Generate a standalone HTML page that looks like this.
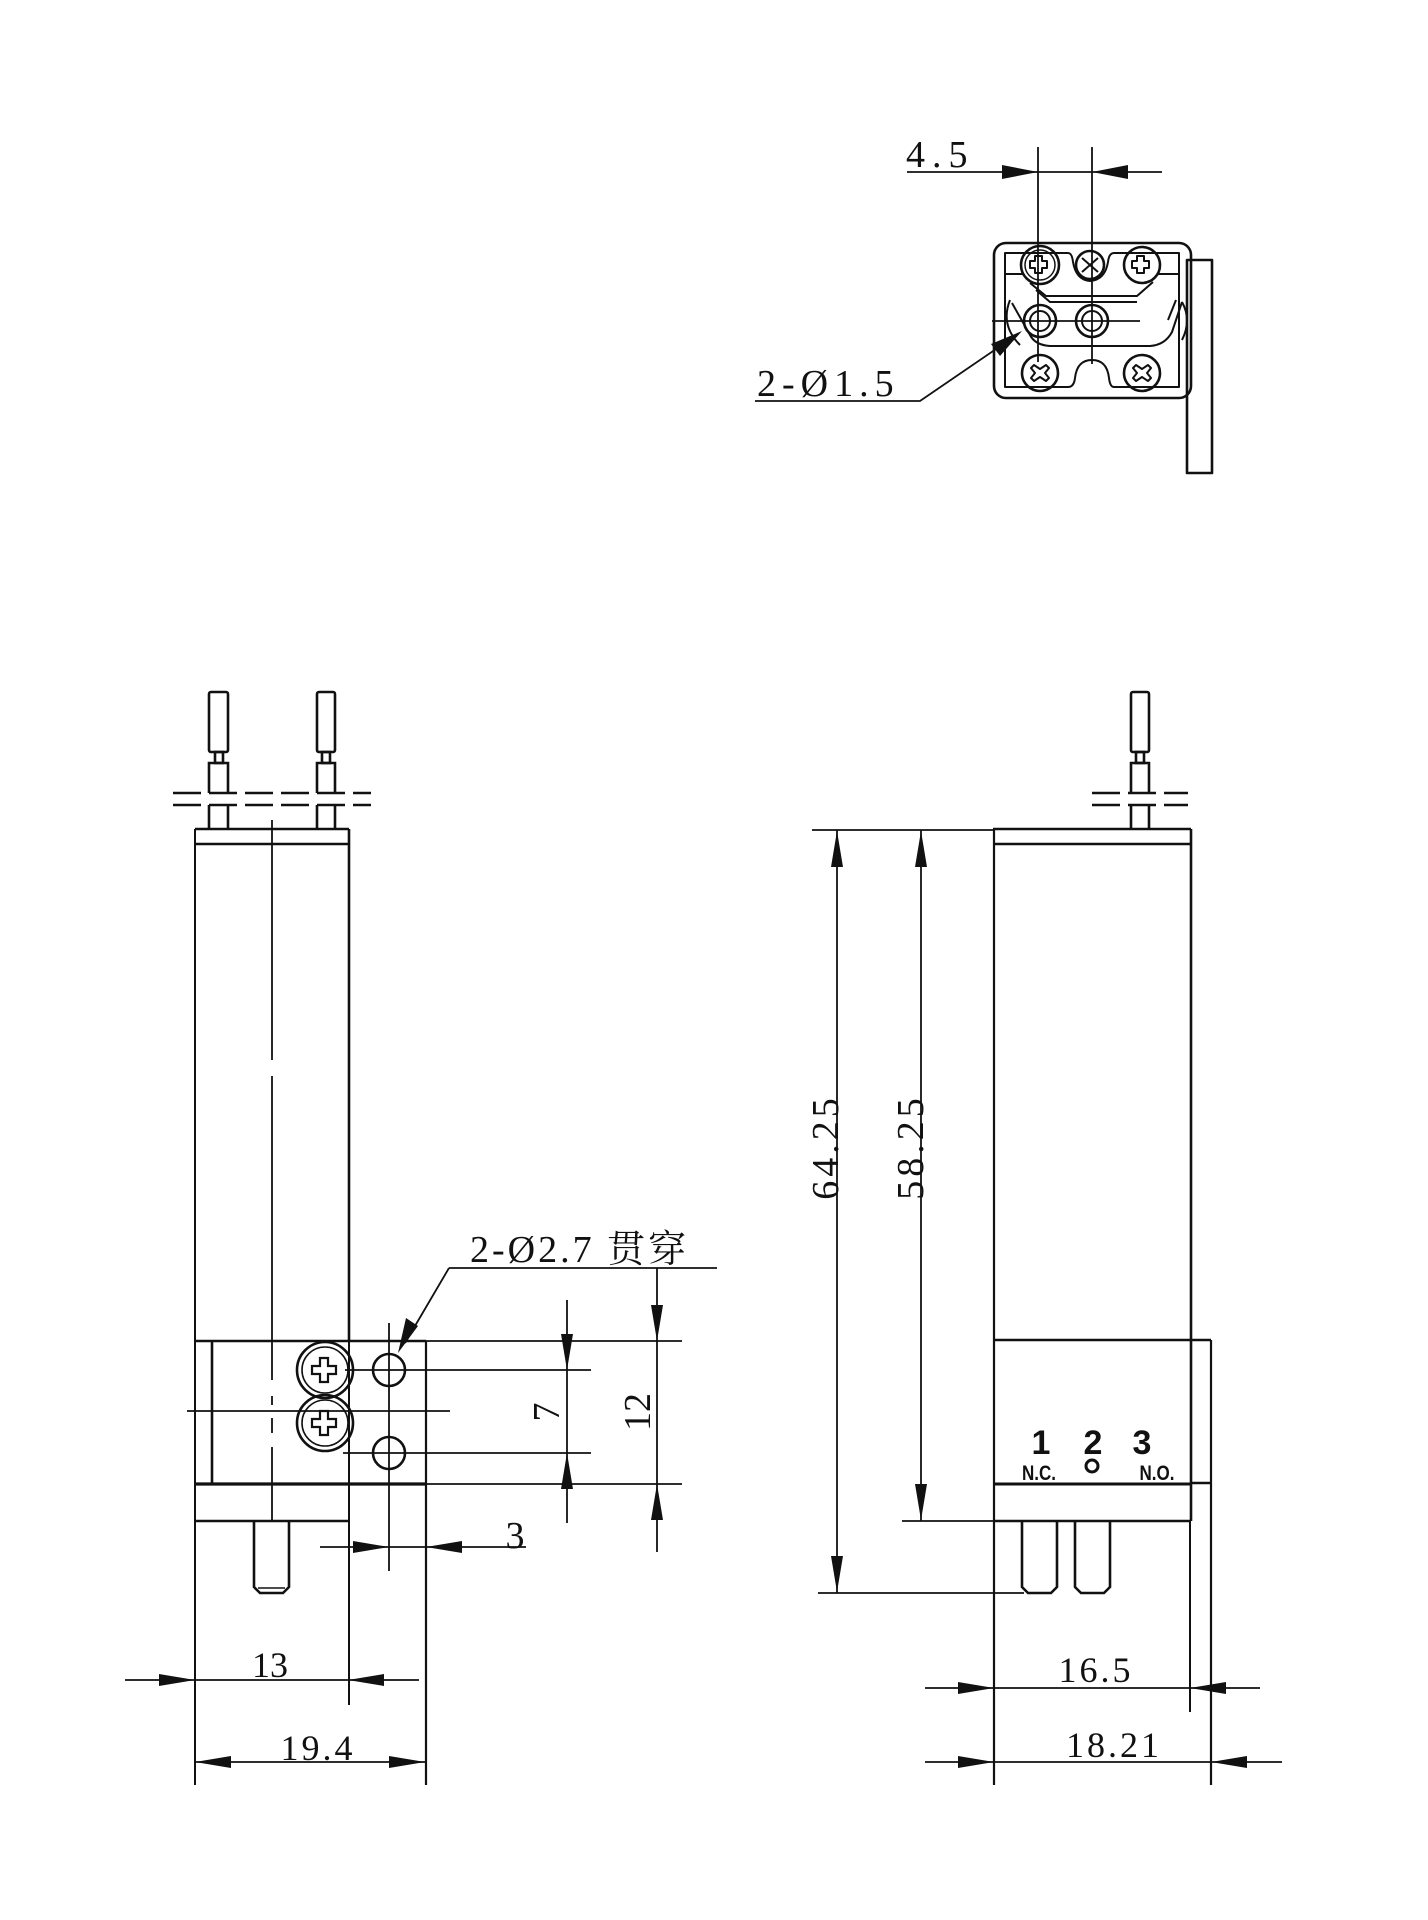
<!DOCTYPE html>
<html><head><meta charset="utf-8"><style>
html,body{margin:0;padding:0;background:#fff;}
svg{display:block;}
text{font-family:"Liberation Serif","Noto Serif CJK SC",serif;fill:#111;}
</style></head><body>
<svg width="1428" height="1920" viewBox="0 0 1428 1920" xmlns="http://www.w3.org/2000/svg">
<g fill="none" stroke="#111" stroke-width="2.6" stroke-linejoin="round">
<rect x="994" y="243" width="197" height="155" rx="12"/>
<path d="M1005 253 H1068 Q1072 253 1073 262 Q1076 280 1090 281 Q1105 280 1108 262 Q1109 253 1114 253 H1179 V387 H1114 Q1110 387 1109 378 Q1107 360 1092 360 Q1077 360 1075 378 Q1074 387 1068 387 H1005 Z" stroke-width="2"/>
<line x1="1005" y1="274" x2="1024" y2="274" stroke-width="2"/>
<line x1="1158" y1="274" x2="1179" y2="274" stroke-width="2"/>
<path d="M1030 283 L1046 296 H1137 L1153 282" stroke-width="2"/>
<path d="M1036 290 L1050 302 H1137" stroke-width="2"/>
<path d="M1010 300 Q1000 325 1020 345" stroke-width="2"/>
<path d="M1012 303 L1030 335 Q1035 345 1050 346 H1150 Q1165 345 1172 332 L1182 302" stroke-width="2"/>
<path d="M1176 300 L1168 320" stroke-width="2"/>
<path d="M1182 302 Q1192 320 1182 340" stroke-width="2"/>
<rect x="1187" y="260" width="25" height="213"/>
<circle cx="1040" cy="265" r="19"/><circle cx="1040" cy="265" r="15" stroke-width="1.5"/>
<path d="M1035 256 h7 v5 h5 v7 h-5 v5 h-7 v-5 h-5 v-7 h5z" stroke-width="2"/>
<circle cx="1090" cy="265" r="14"/>
<path d="M1082 258 L1098 272 M1098 258 L1082 272" stroke-width="2"/>
<circle cx="1142" cy="265" r="18"/>
<path d="M1137 256 h7 v5 h5 v7 h-5 v5 h-7 v-5 h-5 v-7 h5z" stroke-width="2"/>
<circle cx="1040" cy="321" r="16"/><circle cx="1040" cy="321" r="10" stroke-width="2"/>
<circle cx="1092" cy="321" r="16"/><circle cx="1092" cy="321" r="10" stroke-width="2"/>
<circle cx="1040" cy="373" r="18"/>
<path d="M1034 365 l6 4 l6 -4 l3 3 l-4 5 l4 5 l-3 3 l-6 -4 l-6 4 l-3 -3 l4 -5 l-4 -5z" stroke-width="2"/>
<circle cx="1142" cy="373" r="18"/>
<path d="M1136 365 l6 4 l6 -4 l3 3 l-4 5 l4 5 l-3 3 l-6 -4 l-6 4 l-3 -3 l4 -5 l-4 -5z" stroke-width="2"/>
</g>
<g stroke="#111" stroke-width="1.8" fill="none">
<line x1="1038" y1="147" x2="1038" y2="362"/>
<line x1="1092" y1="147" x2="1092" y2="364"/>
<line x1="907" y1="172" x2="1162" y2="172"/>
<line x1="992" y1="321" x2="1140" y2="321"/>
<polyline points="755,401 920,401 1018,334"/>
</g>
<g fill="#111">
<polygon points="1038,172 1002,165 1002,179"/>
<polygon points="1092,172 1128,165 1128,179"/>
<polygon points="1022,331 1000,356 991,344"/>
</g>
<text x="906" y="167" font-size="38" letter-spacing="7">4.5</text>
<text x="757" y="396" font-size="38" letter-spacing="6">2-Ø1.5</text>

<g fill="none" stroke="#111" stroke-width="2.6">
<rect x="209" y="692" width="19" height="60" rx="2"/>
<rect x="317" y="692" width="18" height="60" rx="2"/>
<rect x="215" y="752" width="8" height="11"/><rect x="322" y="752" width="8" height="11"/>
<path d="M209 793 V763 H228 V793 M317 793 V763 H335 V793"/>
<path d="M209 805 V829 M228 805 V829 M317 805 V829 M335 805 V829"/>
<line x1="195" y1="829" x2="349" y2="829"/>
<line x1="195" y1="844" x2="349" y2="844"/>
<line x1="195" y1="829" x2="195" y2="1785" stroke-width="2"/>
<line x1="349" y1="829" x2="349" y2="1341"/>
<line x1="349" y1="1341" x2="349" y2="1705" stroke-width="2"/>
<line x1="195" y1="1341" x2="426" y2="1341"/>
<line x1="212" y1="1341" x2="212" y2="1484"/>
<line x1="195" y1="1484" x2="426" y2="1484" stroke-width="3.2"/>
<line x1="426" y1="1341" x2="426" y2="1785" stroke-width="2.2"/>
<line x1="195" y1="1521" x2="349" y2="1521"/>
<path d="M254 1521 V1587 L260 1593 H283 L289 1587 V1521"/>
<line x1="258" y1="1588" x2="285" y2="1588" stroke-width="1.5"/>
<circle cx="325" cy="1370" r="28"/><circle cx="325" cy="1370" r="23" stroke-width="1.6"/>
<circle cx="325" cy="1423" r="28"/><circle cx="325" cy="1423" r="23" stroke-width="1.6"/>
<path d="M320 1358 h8 v8 h8 v8 h-8 v8 h-8 v-8 h-8 v-8 h8z" stroke-width="2.2"/>
<path d="M320 1411 h8 v8 h8 v8 h-8 v8 h-8 v-8 h-8 v-8 h8z" stroke-width="2.2"/>
<circle cx="389" cy="1370" r="16"/>
<circle cx="389" cy="1453" r="16"/>
</g>
<g stroke="#111" stroke-width="2.4" fill="none" stroke-dasharray="28 8">
<line x1="173" y1="793" x2="371" y2="793"/>
<line x1="173" y1="805" x2="371" y2="805"/>
</g>
<g stroke="#111" stroke-width="1.8" fill="none">
<path d="M272 820 V1060 M272 1076 V1380 M272 1396 V1405 M272 1418 V1433 M272 1447 V1521"/>
<line x1="187" y1="1411" x2="450" y2="1411"/>
<line x1="389" y1="1323" x2="389" y2="1571"/>
<line x1="345" y1="1370" x2="591" y2="1370"/>
<line x1="343" y1="1453" x2="591" y2="1453"/>
<line x1="426" y1="1341" x2="682" y2="1341"/>
<line x1="426" y1="1484" x2="682" y2="1484"/>
<line x1="567" y1="1300" x2="567" y2="1523"/>
<line x1="657" y1="1268" x2="657" y2="1552"/>
<polyline points="449,1268 717,1268"/>
<line x1="449" y1="1268" x2="405" y2="1343"/>
<line x1="320" y1="1547" x2="526" y2="1547"/>
<line x1="125" y1="1680" x2="419" y2="1680"/>
<line x1="195" y1="1762" x2="425" y2="1762"/>
</g>
<g fill="#111">
<polygon points="567,1370 561,1334 573,1334"/>
<polygon points="567,1453 561,1489 573,1489"/>
<polygon points="657,1341 651,1305 663,1305"/>
<polygon points="657,1484 651,1520 663,1520"/>
<polygon points="398,1353 406,1318 418,1326"/>
<polygon points="389,1547 353,1541 353,1553"/>
<polygon points="426,1547 462,1541 462,1553"/>
<polygon points="195,1680 159,1674 159,1686"/>
<polygon points="348,1680 384,1674 384,1686"/>
<polygon points="195,1762 231,1756 231,1768"/>
<polygon points="425,1762 389,1756 389,1768"/>
</g>
<text x="470" y="1262" font-size="38" letter-spacing="3">2-Ø2.7 贯穿</text>
<text x="515" y="1548" font-size="38" text-anchor="middle">3</text>
<text x="270" y="1677" font-size="36" text-anchor="middle">13</text>
<text x="318" y="1760" font-size="36" text-anchor="middle" letter-spacing="3">19.4</text>
<text transform="translate(559,1412) rotate(-90)" font-size="38" text-anchor="middle">7</text>
<text transform="translate(650,1412) rotate(-90)" font-size="38" text-anchor="middle">12</text>

<g fill="none" stroke="#111" stroke-width="2.6">
<rect x="1131" y="692" width="18" height="60" rx="2"/>
<rect x="1136" y="752" width="8" height="11"/>
<path d="M1131 793 V763 H1149 V793 M1131 805 V829 M1149 805 V829"/>
<line x1="993" y1="829" x2="1191" y2="829"/>
<line x1="993" y1="844" x2="1191" y2="844"/>
<line x1="994" y1="829" x2="994" y2="1785" stroke-width="2.2"/>
<line x1="1191" y1="829" x2="1191" y2="1521"/>
<line x1="1190" y1="1521" x2="1190" y2="1712" stroke-width="2"/>
<line x1="994" y1="1340" x2="1211" y2="1340"/>
<line x1="1211" y1="1340" x2="1211" y2="1785" stroke-width="2.2"/>
<line x1="1191" y1="1483" x2="1211" y2="1483"/>
<line x1="994" y1="1484" x2="1191" y2="1484" stroke-width="3"/>
<line x1="994" y1="1521" x2="1191" y2="1521"/>
<path d="M1022 1521 V1587 L1028 1593 H1051 L1057 1587 V1521"/>
<path d="M1075 1521 V1587 L1081 1593 H1104 L1110 1587 V1521"/>
</g>
<g stroke="#111" stroke-width="2.4" fill="none" stroke-dasharray="28 8">
<line x1="1092" y1="793" x2="1188" y2="793"/>
<line x1="1092" y1="805" x2="1188" y2="805"/>
</g>
<g stroke="#111" stroke-width="1.8" fill="none">
<line x1="812" y1="830" x2="993" y2="830"/>
<line x1="902" y1="1521" x2="994" y2="1521"/>
<line x1="818" y1="1593" x2="1024" y2="1593"/>
<line x1="837" y1="830" x2="837" y2="1593"/>
<line x1="921" y1="830" x2="921" y2="1521"/>
<line x1="925" y1="1688" x2="1260" y2="1688"/>
<line x1="925" y1="1762" x2="1282" y2="1762"/>
</g>
<g fill="#111">
<polygon points="837,831 831,867 843,867"/>
<polygon points="837,1592 831,1556 843,1556"/>
<polygon points="921,831 915,867 927,867"/>
<polygon points="921,1520 915,1484 927,1484"/>
<polygon points="994,1688 958,1682 958,1694"/>
<polygon points="1190,1688 1226,1682 1226,1694"/>
<polygon points="994,1762 958,1756 958,1768"/>
<polygon points="1211,1762 1247,1756 1247,1768"/>
</g>
<text transform="translate(838,1147) rotate(-90)" font-size="38" text-anchor="middle" letter-spacing="4">64.25</text>
<text transform="translate(923,1147) rotate(-90)" font-size="38" text-anchor="middle" letter-spacing="4">58.25</text>
<text x="1096" y="1682" font-size="36" text-anchor="middle" letter-spacing="3">16.5</text>
<text x="1114" y="1757" font-size="36" text-anchor="middle" letter-spacing="3">18.21</text>
<g font-weight="bold">
<text x="1041" y="1454" font-size="34" text-anchor="middle" style="font-family:'Liberation Sans',sans-serif">1</text>
<text x="1093" y="1454" font-size="34" text-anchor="middle" style="font-family:'Liberation Sans',sans-serif">2</text>
<text x="1142" y="1454" font-size="34" text-anchor="middle" style="font-family:'Liberation Sans',sans-serif">3</text>
<text x="1039" y="1480" font-size="17" text-anchor="middle" style="font-family:'Liberation Sans',sans-serif" transform="translate(0,-370) scale(1,1.25)">N.C.</text>
<text x="1157" y="1480" font-size="17" text-anchor="middle" style="font-family:'Liberation Sans',sans-serif" transform="translate(0,-370) scale(1,1.25)">N.O.</text>
</g>
<circle cx="1092" cy="1466" r="6" fill="none" stroke="#111" stroke-width="3"/>
</svg>
</body></html>
